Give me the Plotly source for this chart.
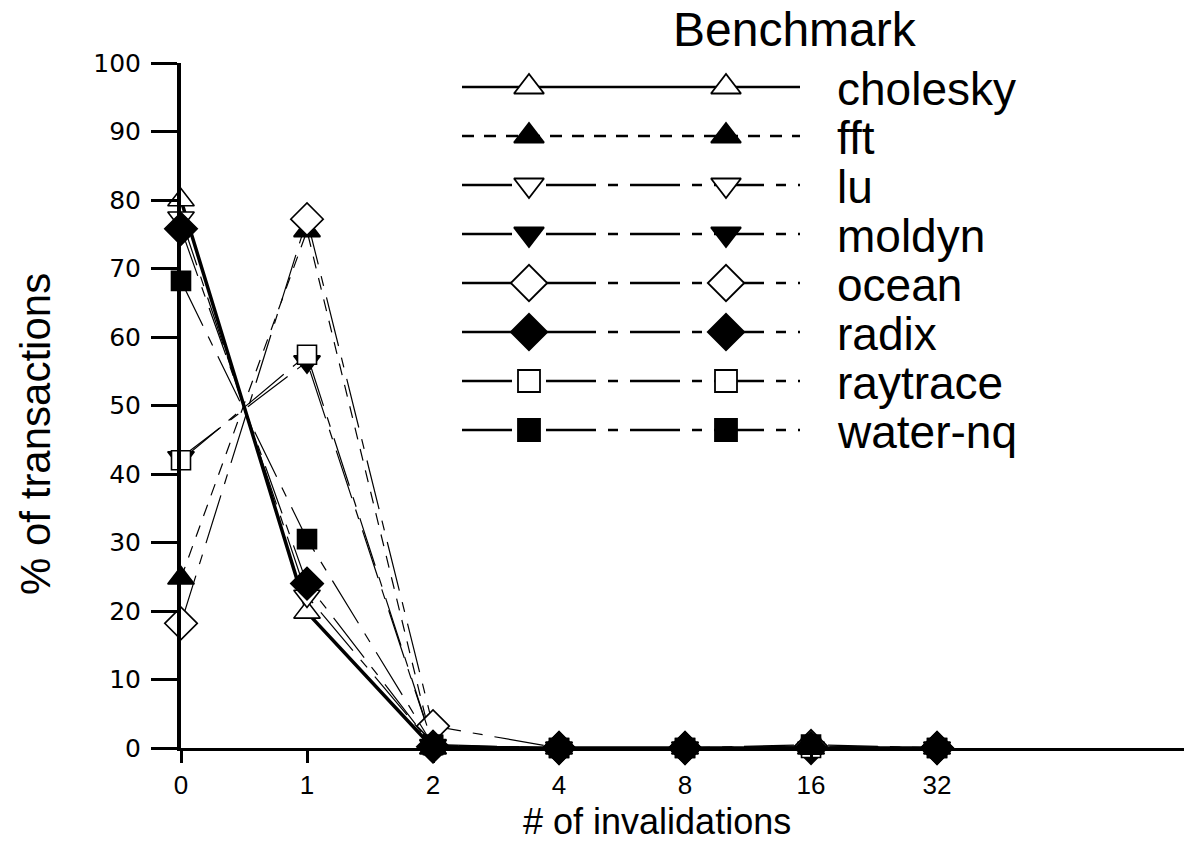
import plotly.graph_objects as go

# ---------------- data ----------------
categories = ["0", "1", "2", "4", "8", "16", "32"]
benchmarks = ["cholesky", "fft", "lu", "moldyn", "ocean", "radix", "raytrace", "water-nq"]
cholesky = [80.0, 19.8, 0.0, 0.0, 0.0, 0.0, 0.0]
fft = [24.8, 75.5, 0.0, 0.0, 0.0, 0.0, 0.0]
lu = [77.4, 22.2, 0.3, 0.0, 0.0, 0.0, 0.0]
moldyn = [42.4, 56.4, 0.4, 0.0, 0.0, 0.0, 0.0]
ocean = [18.2, 77.2, 3.2, 0.0, 0.0, 0.3, 0.0]
radix = [75.8, 24.0, 0.2, 0.0, 0.0, 0.0, 0.0]
raytrace = [42.0, 57.4, 0.5, 0.0, 0.0, 0.0, 0.0]
water_nq = [68.2, 30.5, 0.4, 0.0, 0.0, 0.5, 0.0]
series_values = [cholesky, fft, lu, moldyn, ocean, radix, raytrace, water_nq]
y_ticks = list(range(0, 101, 10))

# ---------------- styles ----------------
DASHDOT = "50px,12px,10px,12px"
styles = {
    "cholesky": dict(symbol="triangle-up", fill=False, dash="solid", width=3.5, size=23),
    "fft": dict(symbol="triangle-up", fill=True, dash="12px,10px", width=1.2, size=23),
    "lu": dict(symbol="triangle-down", fill=False, dash=DASHDOT, width=1.2, size=23),
    "moldyn": dict(symbol="triangle-down", fill=True, dash=DASHDOT, width=1.2, size=23),
    "ocean": dict(symbol="diamond", fill=False, dash=DASHDOT, width=1.2, size=25),
    "radix": dict(symbol="diamond", fill=True, dash=DASHDOT, width=1.2, size=25),
    "raytrace": dict(symbol="square", fill=False, dash=DASHDOT, width=1.2, size=19),
    "water-nq": dict(symbol="square", fill=True, dash=DASHDOT, width=1.2, size=19),
}

FONT = "Liberation Sans, Arial, sans-serif"
W, H = 1184, 844
L, R, T, B = 181, 0, 63, 96
PW, PH = W - L - R, H - T - B


def px(xp):
    return (xp - L) / PW


def py(yp):
    return (H - B - yp) / PH


fig = go.Figure()

# data traces
for name, vals in zip(benchmarks, series_values):
    st = styles[name]
    fig.add_trace(go.Scatter(
        x=categories, y=vals, mode="lines+markers", name=name,
        line=dict(color="black", width=st["width"], dash=st["dash"]),
        marker=dict(symbol=st["symbol"], size=st["size"],
                    color="black" if st["fill"] else "white",
                    line=dict(color="black", width=1.6)),
        cliponaxis=False, showlegend=False,
        xaxis="x", yaxis="y",
    ))

# manual legend drawn on an overlay pixel axis
row0, row_gap = 87, 49
for i, name in enumerate(benchmarks):
    st = styles[name]
    yy = row0 + i * row_gap
    fig.add_trace(go.Scatter(
        x=[462, 800], y=[yy, yy], mode="lines",
        line=dict(color="black", width=2.6, dash=st["dash"]),
        xaxis="x2", yaxis="y2", showlegend=False, cliponaxis=False, hoverinfo="skip",
    ))
    fig.add_trace(go.Scatter(
        x=[529, 726], y=[yy, yy], mode="markers",
        marker=dict(symbol=st["symbol"], size=st["size"] + 3,
                    color="black" if st["fill"] else "white",
                    line=dict(color="black", width=1.8)),
        xaxis="x2", yaxis="y2", showlegend=False, cliponaxis=False, hoverinfo="skip",
    ))
    fig.add_annotation(x=px(835), y=py(yy + 2), xref="paper", yref="paper", text=name,
                       showarrow=False, xanchor="left", yanchor="middle",
                       font=dict(family=FONT, size=46, color="black"))

fig.add_annotation(x=px(795), y=py(29), xref="paper", yref="paper", text="Benchmark",
                   showarrow=False, xanchor="center", yanchor="middle",
                   font=dict(family=FONT, size=48, color="black"))
# axis titles
fig.add_annotation(x=px(657), y=py(821), xref="paper", yref="paper", text="# of invalidations",
                   showarrow=False, xanchor="center", yanchor="middle",
                   font=dict(family=FONT, size=36, color="black"))
fig.add_annotation(x=px(36), y=py(434), xref="paper", yref="paper", text="% of transactions",
                   showarrow=False, xanchor="center", yanchor="middle", textangle=-90,
                   font=dict(family=FONT, size=42, color="black"))

fig.update_layout(
    width=W, height=H,
    margin=dict(l=L, r=R, t=T, b=B, pad=0),
    paper_bgcolor="white", plot_bgcolor="white",
    xaxis=dict(type="category", range=[0, 7.96], showgrid=False, zeroline=False,
               showline=True, linecolor="black", linewidth=3,
               ticks="outside", ticklen=12, tickwidth=3, tickcolor="black",
               ticklabelstandoff=0,
               tickfont=dict(family=FONT, size=26, color="black"),
               domain=[0, 1]),
    yaxis=dict(range=[0, 100], tickvals=y_ticks, showgrid=False, zeroline=False,
               showline=True, linecolor="black", linewidth=4,
               ticks="outside", ticklen=26, tickwidth=3, tickcolor="black",
               ticklabelstandoff=5,
               tickfont=dict(family="DejaVu Sans, sans-serif", size=25, color="black"),
               domain=[0, 1]),
    xaxis2=dict(range=[L, W - R], overlaying="x", visible=False, fixedrange=True),
    yaxis2=dict(range=[H - B, T], overlaying="y", visible=False, fixedrange=True),
)

fig.write_html("out.html", config={"displayModeBar": False},
               post_script="document.body.style.margin='0';document.body.style.overflow='hidden';")
